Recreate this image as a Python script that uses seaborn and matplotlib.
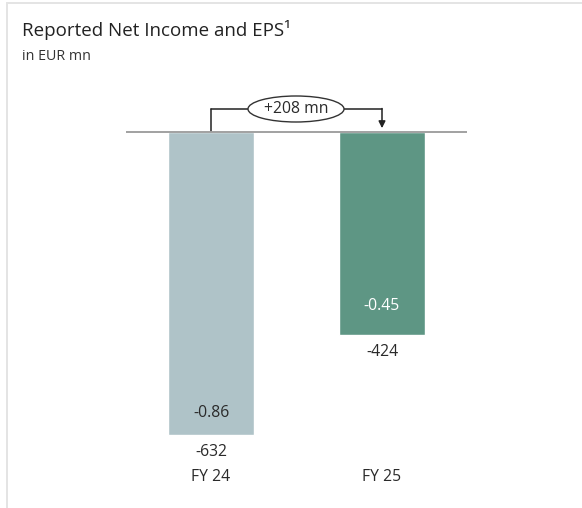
import matplotlib
matplotlib.use("Agg")
import matplotlib.pyplot as plt
from matplotlib.patches import Ellipse, Rectangle
import seaborn as sns
import pandas as pd

# Reported figures
periods = ["FY 24", "FY 25"]
net_income = [-632, -424]          # EUR mn
eps = [-0.86, -0.45]               # EUR per share
eps_offsets = [22, 29]             # px above bar end for EPS text
delta_label = "+208 mn"
bar_colors = ["#afc3c8", "#5e9684"]
eps_colors = ["#2b2b2b", "#ffffff"]

W, H, DPI = 582, 508, 100
sns.set_theme(style="white")
plt.rcParams["font.family"] = ["Open Sans", "DejaVu Sans"]

fig = plt.figure(figsize=(W / DPI, H / DPI), dpi=DPI)
fig.patch.set_facecolor("white")

# card outline
fig.patches.append(Rectangle((7 / W, -0.1), 1.2, (H - 3) / H + 0.1,
                             transform=fig.transFigure, fill=False,
                             edgecolor="#e4e4e4", linewidth=1.4))

ax = fig.add_axes([0, 0, 1, 1])
df = pd.DataFrame({"period": periods, "value": net_income})
sns.barplot(data=df, x="period", y="value", hue="period",
            palette=bar_colors, width=0.503, legend=False, ax=ax,
            saturation=1)

px_per_unit_y = 0.4795
base_px = 132
ax.set_ylim(-(H - base_px) / px_per_unit_y, base_px / px_per_unit_y)
ax.set_xlim(-211 / 171, 1 + (W - 382) / 171)
ax.axis("off")

txt = "#2a2a2a"
fs = 11.3
# baseline
ax.plot([-85 / 171, 1 + 85 / 171], [0, 0], color="#9a9a9a", lw=1.3,
        solid_capstyle="butt", zorder=3)

y_period = -(477 - base_px) / px_per_unit_y
for i, (v, e) in enumerate(zip(net_income, eps)):
    ax.annotate(f"{e:.2f}", (i, v), xytext=(0, eps_offsets[i]),
                textcoords="offset pixels", ha="center", va="center",
                fontsize=fs, color=eps_colors[i])
    ax.annotate(f"{v}", (i, v), xytext=(0, -17), textcoords="offset pixels",
                ha="center", va="center", fontsize=fs, color=txt)
    ax.text(i, y_period, periods[i], ha="center", va="center",
            fontsize=fs, color=txt)

# change bracket
yb = (base_px - 109) / px_per_unit_y
ell_cx = (296 - 211) / 171
ell_w = 96 / 171
ax.plot([0, 0], [2, yb], color="#222222", lw=1.1)
ax.plot([0, ell_cx - ell_w / 2], [yb, yb], color="#222222", lw=1.1)
ax.plot([ell_cx + ell_w / 2, 1], [yb, yb], color="#222222", lw=1.1)
ax.annotate("", xy=(1, 8), xytext=(1, yb + 1),
            arrowprops=dict(arrowstyle="-|>", color="#222222", lw=1.1,
                            mutation_scale=10, shrinkA=0, shrinkB=0))
ax.add_patch(Ellipse((ell_cx, yb), ell_w, 26 / px_per_unit_y,
                     facecolor="white", edgecolor="#333333", lw=1.0, zorder=4))
ax.text(ell_cx, yb, delta_label, ha="center", va="center", fontsize=fs,
        color=txt, zorder=5)

fig.text(22 / W, 1 - 30 / H, "Reported Net Income and EPS¹", fontsize=13.5,
         color="#222222", ha="left", va="center")
fig.text(22 / W, 1 - 57 / H, "in EUR mn", fontsize=10.3, color="#333333",
         ha="left", va="center")

fig.savefig("out.png", dpi=DPI, facecolor="white")
